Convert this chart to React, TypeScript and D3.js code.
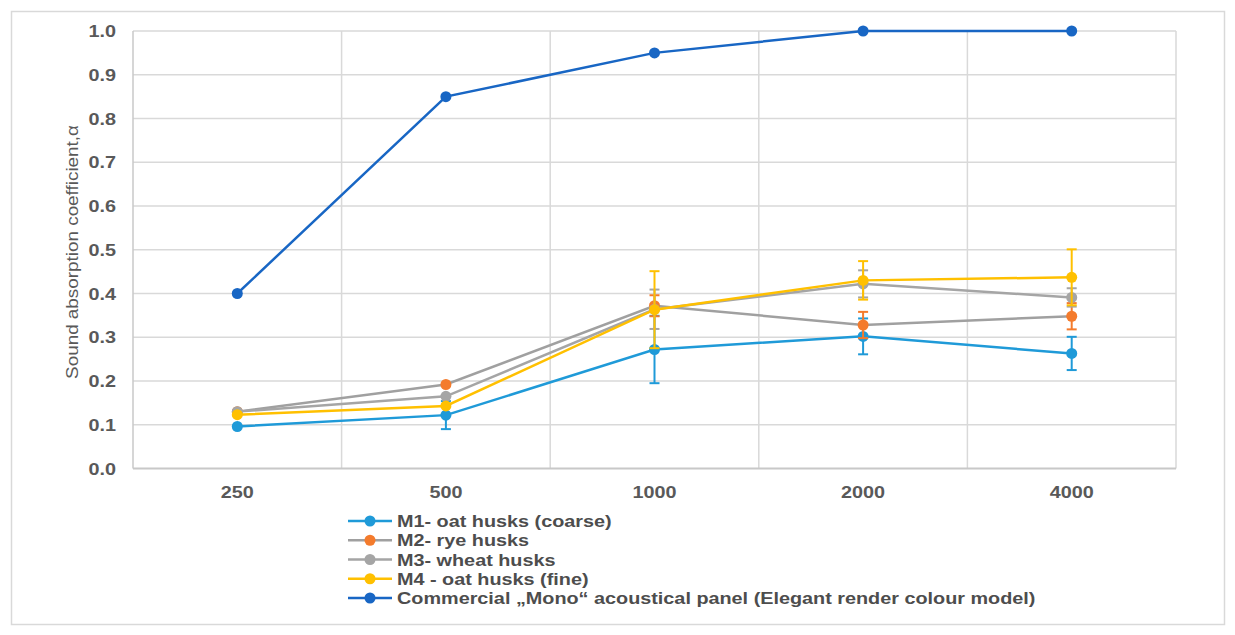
import React, { useEffect, useRef } from "react"
import * as d3 from "d3"

const frequencies = ["250", "500", "1000", "2000", "4000"]

const m1Values = [0.096, 0.122, 0.272, 0.302, 0.263]
const m1Errors = [0, 0.032, 0.077, 0.041, 0.038]
const m2Values = [0.13, 0.192, 0.372, 0.328, 0.348]
const m2Errors = [0, 0, 0.024, 0.03, 0.03]
const m3Values = [0.13, 0.165, 0.364, 0.422, 0.391]
const m3Errors = [0, 0, 0.045, 0.031, 0.021]
const m4Values = [0.123, 0.143, 0.363, 0.43, 0.437]
const m4Errors = [0, 0, 0.088, 0.044, 0.064]
const monoValues = [0.4, 0.85, 0.95, 1.0, 1.0]

const yTicks = [0, 0.1, 0.2, 0.3, 0.4, 0.5, 0.6, 0.7, 0.8, 0.9, 1.0]

interface Series {
  name: string
  values: number[]
  errors: number[] | null
  line: string
  marker: string
}

const series: Series[] = [
  { name: "M1- oat husks (coarse)", values: m1Values, errors: m1Errors, line: "#1f9ad8", marker: "#1f9ad8" },
  { name: "M2- rye husks", values: m2Values, errors: m2Errors, line: "#a0a0a0", marker: "#f47b2c" },
  { name: "M3- wheat husks", values: m3Values, errors: m3Errors, line: "#a5a5a5", marker: "#a5a5a5" },
  { name: "M4 - oat husks (fine)", values: m4Values, errors: m4Errors, line: "#ffc000", marker: "#ffc000" },
  { name: "Commercial \u201eMono\u201c acoustical panel (Elegant render colour model)", values: monoValues, errors: null, line: "#1866c4", marker: "#1866c4" },
]

const W = 1235
const H = 635
const font = "'Liberation Sans', Arial, sans-serif"
// the original text is set wider than Arial
const stretch = 1.18

const App: React.FC = () => {
  const svgRef = useRef<SVGSVGElement>(null)

  useEffect(() => {
    if (!svgRef.current) return
    const svg = d3.select(svgRef.current)
    svg.selectAll("*").remove()

    const left = 133, right = 1176, top = 31, bottom = 468.5

    const x = d3.scaleBand<string>().domain(frequencies).range([left, right]).padding(0)
    const y = d3.scaleLinear().domain([0, 1]).range([bottom, top])
    const cx = (f: string) => (x(f) ?? 0) + x.bandwidth() / 2

    // outer frame
    svg.append("rect")
      .attr("x", 11.5).attr("y", 11.5)
      .attr("width", 1213).attr("height", 613)
      .attr("fill", "white").attr("stroke", "#d9d9d9").attr("stroke-width", 1.5)

    // horizontal grid
    svg.append("g")
      .selectAll("line")
      .data(yTicks.slice(1))
      .enter()
      .append("line")
      .attr("x1", left).attr("x2", right)
      .attr("y1", (d) => y(d)).attr("y2", (d) => y(d))
      .attr("stroke", "#d9d9d9").attr("stroke-width", 1.5)

    // vertical grid at category boundaries
    const bounds = frequencies.map((f) => x(f) ?? 0).concat([right])
    svg.append("g")
      .selectAll("line")
      .data(bounds)
      .enter()
      .append("line")
      .attr("x1", (d) => d).attr("x2", (d) => d)
      .attr("y1", top).attr("y2", bottom)
      .attr("stroke", (d, i) => (i === 0 ? "#c8c8c8" : "#d9d9d9"))
      .attr("stroke-width", 1.5)

    // x axis line
    svg.append("line")
      .attr("x1", left).attr("x2", right)
      .attr("y1", bottom).attr("y2", bottom)
      .attr("stroke", "#c8c8c8").attr("stroke-width", 2)

    // y tick labels
    svg.append("g")
      .selectAll("text")
      .data(yTicks)
      .enter()
      .append("text")
      .attr("transform", (d) => `translate(116,${y(d)}) scale(${stretch},1)`)
      .attr("dy", "0.36em")
      .attr("text-anchor", "end")
      .attr("font-family", font)
      .attr("font-weight", "bold")
      .attr("font-size", 16.8)
      .attr("fill", "#595959")
      .text((d) => d3.format(".1f")(d))

    // x tick labels
    svg.append("g")
      .selectAll("text")
      .data(frequencies)
      .enter()
      .append("text")
      .attr("transform", (d) => `translate(${cx(d)},492) scale(${stretch},1)`)
      .attr("dy", "0.36em")
      .attr("text-anchor", "middle")
      .attr("font-family", font)
      .attr("font-weight", "bold")
      .attr("font-size", 16.8)
      .attr("fill", "#595959")
      .text((d) => d)

    // y axis title
    svg.append("text")
      .attr("transform", `translate(72,252) rotate(-90) scale(${stretch},1)`)
      .attr("dy", "0.36em")
      .attr("text-anchor", "middle")
      .attr("font-family", font)
      .attr("font-size", 16)
      .attr("fill", "#595959")
      .text("Sound absorption coefficient,\u03b1")

    const line = d3.line<number>()
      .x((d, i) => cx(frequencies[i]))
      .y((d) => y(d))

    series.forEach((s) => {
      const g = svg.append("g")

      if (s.errors) {
        const errs = s.errors
        const eb = g.append("g")
          .selectAll("g")
          .data(s.values.map((v, i) => ({ v, e: errs[i], f: frequencies[i] })).filter((d) => d.e > 0))
          .enter()
          .append("g")
        eb.append("line")
          .attr("x1", (d) => cx(d.f)).attr("x2", (d) => cx(d.f))
          .attr("y1", (d) => y(d.v - d.e)).attr("y2", (d) => y(d.v + d.e))
          .attr("stroke", s.marker).attr("stroke-width", 2)
        ;[-1, 1].forEach((sign) => {
          eb.append("line")
            .attr("x1", (d) => cx(d.f) - 5).attr("x2", (d) => cx(d.f) + 5)
            .attr("y1", (d) => y(d.v + sign * d.e)).attr("y2", (d) => y(d.v + sign * d.e))
            .attr("stroke", s.marker).attr("stroke-width", 2)
        })
      }

      g.append("path")
        .attr("d", line(s.values))
        .attr("fill", "none")
        .attr("stroke", s.line)
        .attr("stroke-width", 2.5)

      g.append("g")
        .selectAll("circle")
        .data(s.values)
        .enter()
        .append("circle")
        .attr("cx", (d, i) => cx(frequencies[i]))
        .attr("cy", (d) => y(d))
        .attr("r", 5.5)
        .attr("fill", s.marker)
    })

    // legend
    const legendY = d3.scalePoint<string>()
      .domain(series.map((s) => s.name))
      .range([521, 598])
    const lg = svg.append("g")
      .selectAll("g")
      .data(series)
      .enter()
      .append("g")
      .attr("transform", (d) => `translate(0,${legendY(d.name)})`)
    lg.append("line")
      .attr("x1", 348).attr("x2", 392)
      .attr("stroke", (d) => d.line).attr("stroke-width", 2.5)
    lg.append("circle")
      .attr("cx", 370).attr("r", 5.5)
      .attr("fill", (d) => d.marker)
    lg.append("text")
      .attr("transform", `translate(397,0) scale(${stretch},1)`)
      .attr("dy", "0.36em")
      .attr("font-family", font)
      .attr("font-weight", "bold")
      .attr("font-size", 16.8)
      .attr("fill", "#4d4d4d")
      .text((d) => d.name)
  }, [])

  return (
    <svg
      ref={svgRef}
      width={W}
      height={H}
      style={{ position: "absolute", left: 0, top: 0, background: "white" }}
    />
  )
}

export default App
